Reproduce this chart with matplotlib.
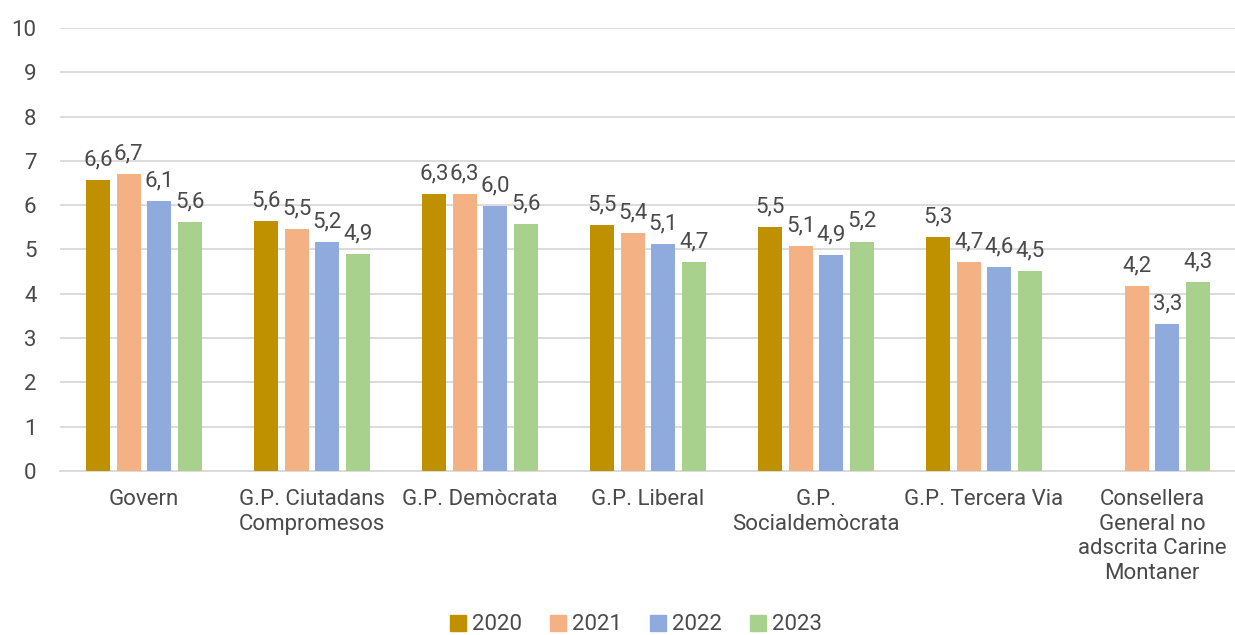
import numpy as np
import matplotlib
matplotlib.use('Agg')
import matplotlib.pyplot as plt
from matplotlib.patches import Patch

plt.rcParams['font.family'] = ['Roboto', 'DejaVu Sans']

categories = ["Govern", "G.P. Ciutadans\nCompromesos", "G.P. Demòcrata", "G.P. Liberal",
              "G.P.\nSocialdemòcrata", "G.P. Tercera Via",
              "Consellera\nGeneral no\nadscrita Carine\nMontaner"]
years = ["2020", "2021", "2022", "2023"]
v2020 = [6.57, 5.64, 6.26, 5.55, 5.50, 5.28, np.nan]
v2021 = [6.70, 5.46, 6.26, 5.38, 5.08, 4.72, 4.18]
v2022 = [6.09, 5.16, 5.98, 5.12, 4.88, 4.60, 3.32]
v2023 = [5.61, 4.89, 5.58, 4.72, 5.18, 4.52, 4.26]
series = [v2020, v2021, v2022, v2023]
colors = ["#BF9000", "#F4B183", "#8FAADC", "#A9D18E"]

txt = "#4a4a4a"
fs = 16
fig = plt.figure(figsize=(12.35, 6.35), dpi=100)
ax = fig.add_axes([60/1235, 1-471/635, 1176/1235, (471-28)/635])

x = np.arange(len(categories))
step = 0.182
width = 0.143
for i, (vals, col) in enumerate(zip(series, colors)):
    pos = x + (i - 1.5) * step
    ax.bar(pos, vals, width, color=col, zorder=3)
    for p, v in zip(pos, vals):
        if np.isnan(v):
            continue
        ax.annotate(f"{v:.1f}".replace(".", ","), (p, v), xytext=(0, 7),
                    textcoords="offset points", ha="center", va="bottom",
                    fontsize=fs, color=txt)

ax.set_xlim(-0.5, len(categories) - 0.5)
ax.set_ylim(0, 10)
ax.set_yticks(range(0, 11))
ax.yaxis.grid(True, color="#D9D9D9", linewidth=1.3, zorder=0)
for s in ["top", "right", "left"]:
    ax.spines[s].set_visible(False)
ax.spines["bottom"].set_color("#D9D9D9")
ax.spines["bottom"].set_linewidth(1.3)
ax.tick_params(axis="both", length=0, labelsize=fs, labelcolor=txt)
ax.tick_params(axis="y", pad=17)
ax.set_xticks(x)
ax.set_xticklabels(categories, linespacing=1.22)
ax.tick_params(axis="x", pad=13)

handles = [Patch(color=c, label=y) for c, y in zip(colors, years)]
fig.legend(handles=handles, loc="center", bbox_to_anchor=(0.515, (635-625)/635),
           ncol=4, frameon=False, fontsize=fs, handlelength=0.7, handleheight=0.7,
           handletextpad=0.25, columnspacing=1.3, labelcolor=txt)

plt.savefig("out.png", dpi=100)
